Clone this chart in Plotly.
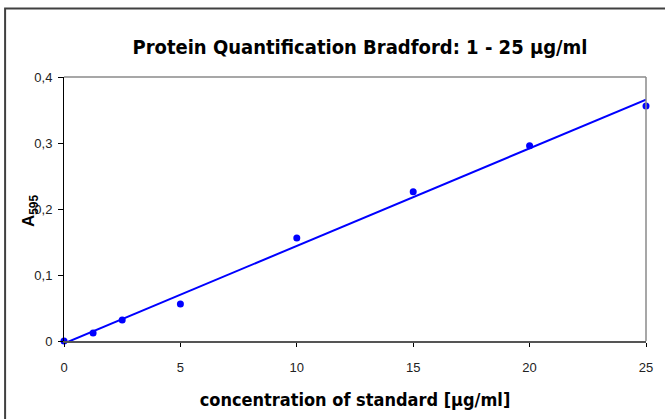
import numpy as np
import plotly.graph_objects as go

conc = [0, 1.25, 2.5, 5, 10, 15, 20, 25]
absorb = [0.0, 0.012, 0.032, 0.056, 0.156, 0.226, 0.296, 0.356]
x_ticks = [0, 5, 10, 15, 20, 25]
y_ticks = [0, 0.1, 0.2, 0.3, 0.4]
y_tick_labels = ["0", "0,1", "0,2", "0,3", "0,4"]

slope, intercept = np.polyfit(conc, absorb, 1)
fit_x = [0, 25]
fit_y = [intercept + slope * v for v in fit_x]

W, H = 665, 419
L, R, T, B = 64, 18, 77, 76
pw, ph = W - L - R, H - T - B

def px(xp):
    return (xp - L) / pw

def py(yp):
    return (H - B - yp) / ph

TITLE_FONT = "DejaVu Sans Condensed, Liberation Sans, Arial"

fig = go.Figure()
fig.add_trace(go.Scatter(x=fit_x, y=fit_y, mode="lines",
                         line=dict(color="#0000ff", width=2), hoverinfo="skip"))
fig.add_trace(go.Scatter(x=conc, y=absorb, mode="markers",
                         marker=dict(color="#0000ff", size=7), cliponaxis=False))

fig.update_layout(
    width=W, height=H,
    margin=dict(l=L, r=R, t=T, b=B),
    paper_bgcolor="white", plot_bgcolor="white",
    showlegend=False,
    title=dict(text="<b>Protein Quantification Bradford: 1 - 25 µg/ml</b>",
               xref="container", x=360 / W, xanchor="center",
               yref="container", y=1 - 47 / H, yanchor="middle",
               font=dict(family=TITLE_FONT, size=20, color="black")),
    font=dict(family="Liberation Sans, Arial", size=13, color="black"),
)
fig.update_xaxes(range=[0, 25], tickvals=x_ticks, ticktext=[str(v) for v in x_ticks],
                 showgrid=False, zeroline=False, showline=True, linecolor="#555555", linewidth=2,
                 ticks="outside", ticklen=4, tickcolor="black", tickwidth=1,
                 ticklabelstandoff=9,
                 tickfont=dict(size=13, color="#222222"),
                 title=dict(text="<b>concentration of standard [µg/ml]</b>",
                            font=dict(family=TITLE_FONT, size=18),
                            standoff=20))
fig.update_yaxes(range=[0, 0.4], tickvals=y_ticks, ticktext=y_tick_labels,
                 showgrid=False, zeroline=False, showline=True, linecolor="black", linewidth=1,
                 ticks="outside", ticklen=5, tickcolor="black",
                 ticklabelstandoff=3,
                 tickfont=dict(size=13, color="#222222"))
fig.add_annotation(text="<b>A<sub>595</sub></b>", xref="paper", yref="paper",
                   x=px(30), y=py(212), xanchor="center", yanchor="middle",
                   textangle=-90, showarrow=False,
                   font=dict(family="Liberation Sans, Arial", size=17, color="black"))
fig.add_shape(type="line", xref="paper", yref="paper", x0=0, x1=1, y0=1, y1=1,
              line=dict(color="#8a8a8a", width=1.5))
fig.add_shape(type="line", xref="paper", yref="paper", x0=1, x1=1, y0=0, y1=1,
              line=dict(color="#8a8a8a", width=1.5))
fig.add_shape(type="rect", xref="paper", yref="paper", x0=px(5), x1=px(700), y0=py(8), y1=py(440),
              line=dict(color="#404040", width=2), layer="below")

fig.write_html("out.html", config={"displayModeBar": False},
               post_script="document.body.style.margin='0px';")
